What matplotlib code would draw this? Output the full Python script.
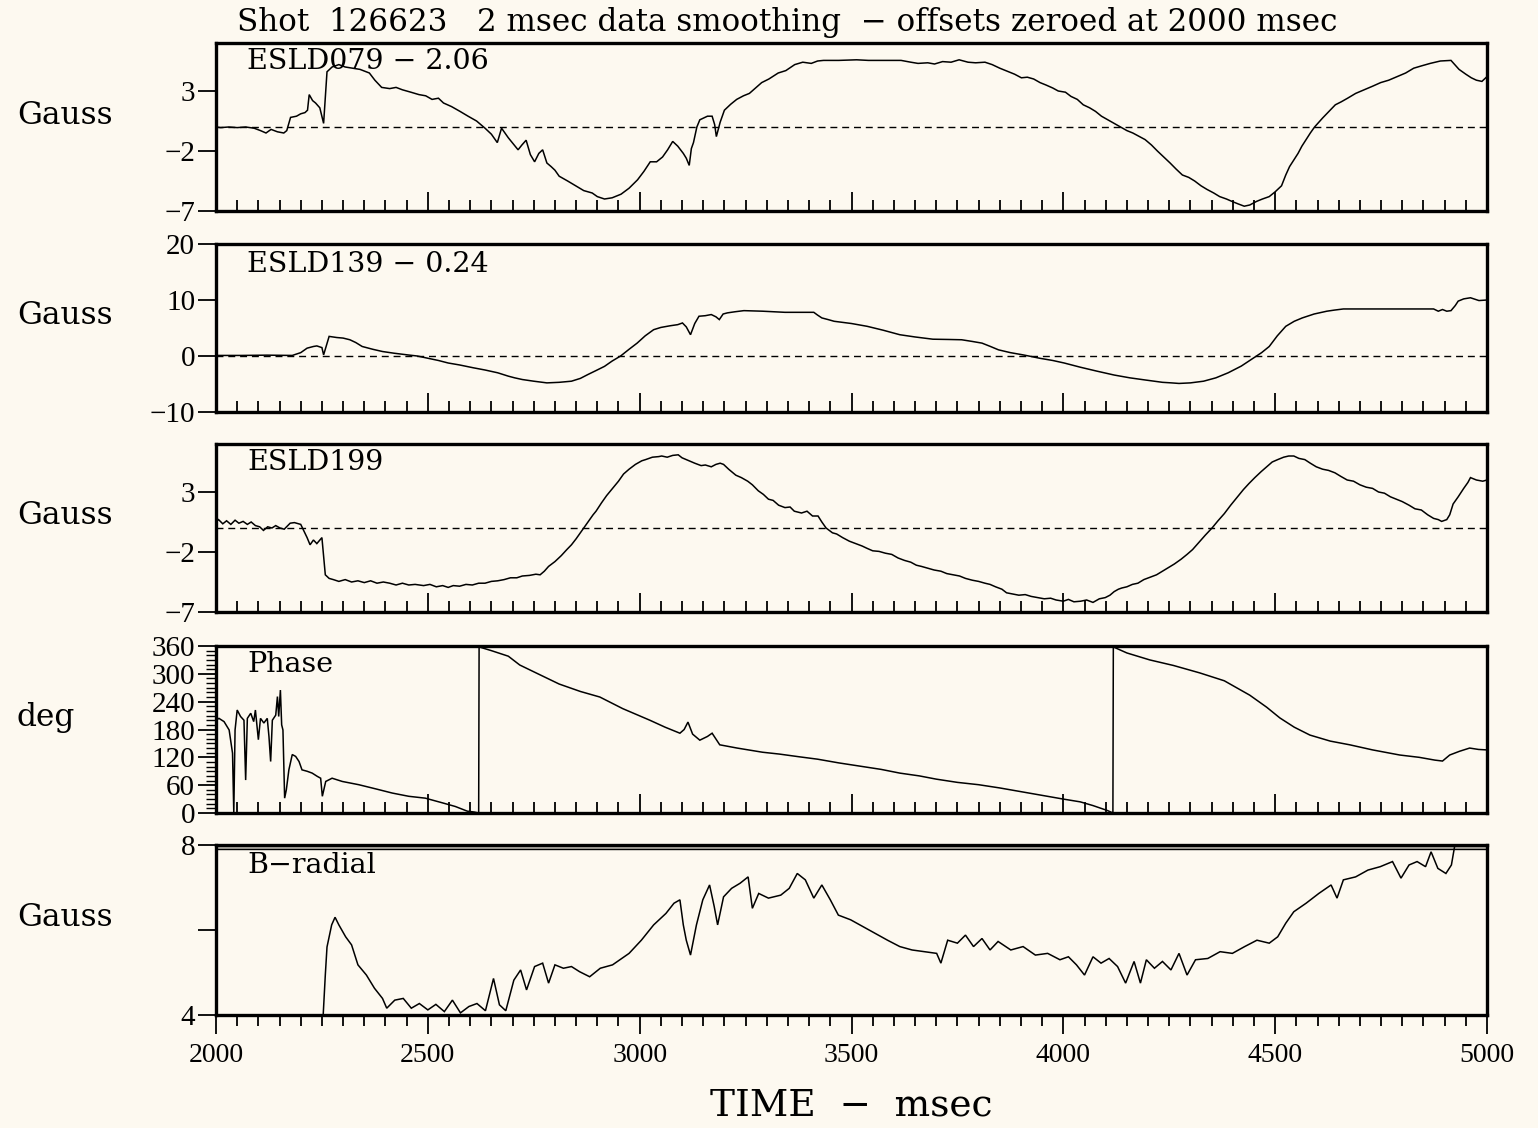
import matplotlib
matplotlib.use("Agg")
import matplotlib.pyplot as plt
from matplotlib.ticker import MultipleLocator

# ---------------- data ----------------
t_079 = [2000, 2011, 2030, 2050, 2070, 2090, 2105, 2118, 2130, 2145, 2160, 2167, 2176, 2190, 2200,
         2210, 2216, 2220, 2228, 2235, 2245, 2254, 2258, 2262, 2274, 2290, 2305, 2323, 2340, 2362,
         2375, 2391, 2410, 2425, 2440, 2460, 2479, 2495, 2510, 2525, 2537, 2556, 2576, 2595, 2615,
         2635, 2650, 2664, 2674, 2690, 2713, 2722, 2732, 2742, 2752, 2762, 2771, 2781, 2791, 2800,
         2810, 2830, 2849, 2868, 2888, 2900, 2917, 2935, 2956, 2975, 2995, 3010, 3025, 3040, 3054,
         3066, 3078, 3090, 3103, 3110, 3117, 3122, 3127, 3135, 3142, 3160, 3171, 3177, 3181, 3190,
         3200, 3215, 3229, 3245, 3259, 3275, 3288, 3305, 3327, 3345, 3366, 3385, 3405, 3420, 3434,
         3470, 3512, 3540, 3570, 3617, 3640, 3657, 3680, 3696, 3715, 3735, 3754, 3775, 3793, 3815,
         3832, 3850, 3871, 3885, 3901, 3915, 3930, 3945, 3959, 3975, 3988, 4005, 4018, 4033, 4047,
         4062, 4076, 4090, 4105, 4120, 4135, 4150, 4164, 4180, 4193, 4208, 4222, 4237, 4252, 4266,
         4281, 4296, 4310, 4325, 4339, 4355, 4369, 4385, 4398, 4412, 4427, 4440, 4456, 4470, 4486,
         4500, 4515, 4525, 4534, 4545, 4554, 4563, 4573, 4583, 4593, 4603, 4612, 4627, 4642, 4656,
         4671, 4690, 4710, 4730, 4749, 4768, 4788, 4808, 4827, 4846, 4866, 4890, 4915, 4934, 4950,
         4963, 4975, 4988, 5000]
b_079 = [0.0, -0.05, 0.0, -0.05, 0.0, -0.1, -0.3, -0.5, -0.2, -0.4, -0.5, -0.3, 0.8, 0.9, 1.1,
         1.2, 1.4, 2.7, 2.2, 2.0, 1.6, 0.3, 2.5, 4.6, 5.0, 5.2, 5.0, 4.9, 4.8, 4.5,
         3.9, 3.3, 3.2, 3.3, 3.1, 2.9, 2.7, 2.6, 2.3, 2.4, 2.0, 1.7, 1.3, 0.9, 0.5,
         -0.1, -0.6, -1.3, -0.1, -0.9, -1.9, -1.5, -1.1, -2.3, -2.9, -2.2, -1.9, -3.0, -3.3, -3.6,
         -4.1, -4.5, -4.9, -5.3, -5.5, -5.8, -6.0, -5.9, -5.6, -5.1, -4.4, -3.7, -2.9, -2.9, -2.5,
         -1.9, -1.2, -1.6, -2.2, -2.6, -3.2, -1.8, -1.3, 0.0, 0.6, 0.9, 0.9, 0.2, -0.8, 0.4,
         1.4, 1.9, 2.3, 2.6, 2.8, 3.3, 3.7, 4.0, 4.5, 4.7, 5.2, 5.4, 5.3, 5.5, 5.55,
         5.55, 5.6, 5.55, 5.55, 5.55, 5.4, 5.3, 5.35, 5.25, 5.45, 5.4, 5.6, 5.4, 5.35, 5.4,
         5.2, 4.9, 4.6, 4.4, 4.1, 4.15, 4.0, 3.7, 3.5, 3.25, 3.0, 2.9, 2.55, 2.3, 1.85,
         1.6, 1.3, 0.9, 0.6, 0.3, 0.0, -0.3, -0.5, -0.8, -1.05, -1.5, -2.0, -2.5, -3.0, -3.5,
         -4.0, -4.2, -4.5, -4.9, -5.2, -5.5, -5.8, -6.0, -6.2, -6.4, -6.6, -6.5, -6.2, -6.0, -5.8,
         -5.4, -4.9, -4.0, -3.3, -2.7, -2.2, -1.6, -1.05, -0.5, 0.0, 0.4, 0.75, 1.3, 1.85, 2.1,
         2.4, 2.8, 3.1, 3.4, 3.7, 3.9, 4.2, 4.5, 4.9, 5.1, 5.3, 5.5, 5.55, 4.8, 4.4,
         4.1, 3.9, 3.8, 4.2]

t_139 = [2000, 2060, 2120, 2180, 2200, 2215, 2230, 2238, 2250, 2254, 2267, 2285, 2300, 2316, 2330,
         2345, 2370, 2393, 2420, 2452, 2475, 2500, 2525, 2548, 2575, 2607, 2635, 2665, 2690, 2705,
         2723, 2750, 2781, 2810, 2839, 2860, 2878, 2897, 2917, 2935, 2955, 2975, 2994, 3013, 3033,
         3050, 3072, 3090, 3101, 3110, 3120, 3130, 3140, 3155, 3169, 3180, 3188, 3197, 3207, 3225,
         3246, 3290, 3343, 3380, 3411, 3420, 3430, 3445, 3459, 3500, 3537, 3575, 3614, 3650, 3692,
         3730, 3760, 3785, 3808, 3828, 3847, 3875, 3905, 3925, 3944, 3975, 4002, 4040, 4079, 4120,
         4157, 4195, 4234, 4255, 4273, 4300, 4331, 4360, 4389, 4420, 4448, 4468, 4486, 4505, 4525,
         4545, 4564, 4592, 4622, 4640, 4661, 4760, 4874, 4885, 4895, 4905, 4915, 4925, 4932, 4945,
         4961, 4981, 5000]
b_139 = [0.1, 0.1, 0.15, 0.1, 0.6, 1.4, 1.7, 1.8, 1.5, 0.2, 3.5, 3.3, 3.2, 2.9, 2.4,
         1.7, 1.2, 0.8, 0.5, 0.2, 0.0, -0.4, -0.8, -1.25, -1.6, -2.1, -2.5, -3.0, -3.6, -3.9,
         -4.2, -4.5, -4.8, -4.7, -4.5, -4.0, -3.3, -2.6, -1.85, -0.9, 0.0, 1.2, 2.3, 3.6, 4.7,
         5.1, 5.4, 5.6, 5.9, 5.2, 3.8, 5.8, 7.1, 7.2, 7.4, 7.0, 6.5, 7.5, 7.7, 7.9,
         8.1, 8.0, 7.8, 7.8, 7.8, 7.3, 6.8, 6.5, 6.2, 5.8, 5.3, 4.6, 3.8, 3.4, 3.0,
         2.95, 2.9, 2.6, 2.3, 1.7, 1.1, 0.6, 0.2, -0.1, -0.4, -0.8, -1.25, -2.0, -2.7, -3.4,
         -3.9, -4.3, -4.7, -4.8, -4.9, -4.8, -4.5, -3.9, -3.0, -1.8, -0.4, 0.6, 1.7, 3.6, 5.3,
         6.2, 6.8, 7.5, 8.0, 8.2, 8.4, 8.4, 8.4, 8.0, 8.3, 8.0, 8.1, 9.0, 9.8, 10.2,
         10.4, 9.9, 10.0]

t_199 = [2000, 2006, 2016, 2025, 2035, 2045, 2054, 2064, 2074, 2083, 2093, 2103, 2112, 2122, 2132,
         2141, 2151, 2161, 2175, 2185, 2200, 2215, 2222, 2230, 2238, 2250, 2258, 2267, 2277, 2290,
         2305, 2320, 2335, 2350, 2365, 2380, 2395, 2410, 2425, 2440, 2455, 2470, 2490, 2505, 2520,
         2535, 2548, 2560, 2575, 2590, 2605, 2620, 2635, 2650, 2665, 2680, 2695, 2710, 2723, 2740,
         2755, 2765, 2775, 2785, 2800, 2815, 2828, 2839, 2850, 2860, 2868, 2880, 2890, 2897, 2910,
         2922, 2936, 2950, 2962, 2975, 2990, 3005, 3014, 3030, 3045, 3052, 3065, 3078, 3091, 3100,
         3110, 3120, 3130, 3145, 3155, 3169, 3180, 3190, 3198, 3210, 3227, 3240, 3255, 3266, 3280,
         3292, 3304, 3315, 3328, 3343, 3355, 3365, 3382, 3395, 3408, 3421, 3430, 3440, 3455, 3465,
         3479, 3495, 3510, 3525, 3537, 3550, 3565, 3580, 3595, 3610, 3625, 3640, 3653, 3665, 3680,
         3695, 3711, 3725, 3740, 3755, 3769, 3785, 3800, 3815, 3827, 3840, 3855, 3866, 3880, 3895,
         3910, 3924, 3940, 3955, 3970, 3983, 4000, 4012, 4025, 4041, 4055, 4070, 4085, 4099, 4110,
         4120, 4130, 4138, 4150, 4163, 4176, 4190, 4205, 4220, 4234, 4248, 4262, 4278, 4292, 4305,
         4320, 4335, 4351, 4365, 4380, 4395, 4409, 4425, 4438, 4452, 4467, 4480, 4493, 4506, 4520,
         4532, 4544, 4556, 4570, 4583, 4597, 4612, 4626, 4641, 4655, 4670, 4685, 4700, 4715, 4730,
         4744, 4758, 4772, 4786, 4800, 4816, 4830, 4845, 4860, 4874, 4885, 4893, 4905, 4912, 4920,
         4932, 4945, 4955, 4961, 4975, 4990, 5000]
b_199 = [0.5, 0.7, 0.35, 0.6, 0.3, 0.65, 0.4, 0.55, 0.3, 0.5, 0.2, 0.1, -0.2, 0.1, 0.0,
         0.2, 0.0, -0.1, 0.4, 0.45, 0.3, -0.8, -1.4, -1.0, -1.3, -0.8, -3.9, -4.2, -4.3, -4.45,
         -4.3, -4.5, -4.4, -4.55, -4.4, -4.6, -4.5, -4.6, -4.75, -4.6, -4.75, -4.7, -4.8, -4.7, -4.9,
         -4.8, -4.95, -4.8, -4.85, -4.7, -4.75, -4.6, -4.6, -4.45, -4.4, -4.3, -4.15, -4.15, -4.0, -3.95,
         -3.85, -3.9, -3.6, -3.2, -2.8, -2.3, -1.8, -1.4, -0.9, -0.4, 0.0, 0.6, 1.1, 1.4, 2.1,
         2.7, 3.3, 3.9, 4.5, 4.9, 5.3, 5.6, 5.7, 5.9, 5.95, 6.0, 5.9, 6.05, 6.1, 5.85,
         5.7, 5.55, 5.4, 5.2, 5.25, 5.1, 5.3, 5.4, 5.3, 4.9, 4.4, 4.2, 3.9, 3.6, 3.1,
         2.8, 2.4, 2.3, 1.9, 1.7, 1.75, 1.4, 1.25, 1.4, 1.0, 1.0, 0.5, 0.0, -0.4, -0.5,
         -0.8, -1.1, -1.3, -1.5, -1.7, -1.9, -1.95, -2.1, -2.2, -2.5, -2.7, -2.85, -3.1, -3.2, -3.35,
         -3.5, -3.6, -3.8, -3.9, -4.0, -4.2, -4.35, -4.45, -4.6, -4.7, -4.9, -5.1, -5.4, -5.5, -5.6,
         -5.55, -5.7, -5.8, -5.9, -5.85, -6.0, -6.1, -5.95, -6.15, -6.1, -6.0, -6.2, -5.9, -5.8, -5.6,
         -5.3, -5.1, -5.0, -4.9, -4.7, -4.6, -4.3, -4.1, -3.9, -3.6, -3.3, -3.0, -2.6, -2.2, -1.8,
         -1.2, -0.6, 0.0, 0.6, 1.2, 1.9, 2.5, 3.2, 3.7, 4.2, 4.7, 5.1, 5.5, 5.7, 5.9,
         6.0, 6.0, 5.8, 5.7, 5.4, 5.1, 4.9, 4.8, 4.6, 4.3, 4.0, 3.9, 3.6, 3.4, 3.3,
         3.0, 2.9, 2.6, 2.4, 2.2, 1.9, 1.6, 1.5, 1.1, 0.8, 0.7, 0.55, 0.7, 1.1, 2.0,
         2.6, 3.3, 3.8, 4.2, 4.0, 3.9, 4.0]

t_phase = [2000, 2007, 2019, 2031, 2039, 2042, 2045, 2050, 2058, 2066, 2070, 2074, 2082, 2089, 2093,
           2100, 2105, 2113, 2121, 2125, 2129, 2133, 2141, 2145, 2148, 2152, 2155, 2158, 2162, 2166,
           2172, 2180, 2188, 2196, 2203, 2215, 2227, 2239, 2247, 2251, 2259, 2274, 2298, 2337, 2377,
           2416, 2455, 2494, 2534, 2565, 2593, 2610, 2620, 2621, 2650, 2690, 2717, 2760, 2810, 2860,
           2906, 2960, 3024, 3060, 3095, 3105, 3114, 3125, 3142, 3160, 3171, 3189, 3230, 3290, 3330,
           3378, 3420, 3470, 3520, 3570, 3614, 3660, 3700, 3750, 3800, 3850, 3900, 3950, 4000, 4040,
           4070, 4086, 4105, 4117, 4118, 4150, 4204, 4260, 4322, 4380, 4440, 4480, 4511, 4545, 4582,
           4630, 4676, 4730, 4794, 4840, 4877, 4895, 4912, 4935, 4959, 4980, 5000]
phase = [200, 204, 197, 179, 129, 0, 179, 222, 208, 200, 71, 204, 215, 197, 222,
         158, 204, 194, 204, 165, 111, 200, 211, 251, 208, 265, 190, 179, 32, 50,
         93, 126, 122, 111, 93, 90, 86, 79, 75, 36, 68, 75, 68, 61, 52,
         43, 36, 32, 22, 14, 4, 2, 0, 358, 350, 338, 319, 300, 278, 262,
         250, 225, 200, 185, 172, 180, 196, 170, 157, 165, 172, 147, 140, 131, 127,
         121, 116, 108, 101, 94, 86, 80, 73, 66, 61, 54, 46, 38, 30, 24,
         16, 11, 5, 0, 358, 345, 330, 318, 302, 285, 254, 228, 205, 185, 168,
         155, 147, 136, 125, 120, 114, 112, 125, 133, 140, 137, 136]

t_brad = [2253, 2258, 2262, 2273, 2281, 2290, 2306, 2320, 2335, 2355, 2374, 2393, 2403, 2422, 2442,
          2461, 2480, 2500, 2519, 2539, 2558, 2577, 2597, 2616, 2636, 2655, 2669, 2684, 2703, 2719,
          2733, 2752, 2771, 2785, 2800, 2820, 2839, 2858, 2882, 2907, 2936, 2975, 3004, 3033, 3062,
          3081, 3095, 3103, 3110, 3120, 3134, 3149, 3165, 3176, 3184, 3198, 3217, 3237, 3256, 3266,
          3281, 3304, 3333, 3353, 3372, 3391, 3411, 3430, 3450, 3469, 3498, 3527, 3556, 3585, 3614,
          3643, 3672, 3701, 3711, 3727, 3750, 3769, 3788, 3808, 3827, 3846, 3876, 3905, 3934, 3963,
          3992, 4012, 4031, 4050, 4070, 4089, 4108, 4128, 4147, 4167, 4182, 4196, 4215, 4234, 4254,
          4273, 4292, 4312, 4341, 4370, 4399, 4428, 4457, 4486, 4506, 4525, 4544, 4573, 4603, 4632,
          4646, 4661, 4690, 4719, 4748, 4777, 4797, 4816, 4835, 4855, 4868, 4884, 4903, 4916, 4925,
          4940, 5000]
brad = [4.0, 4.94, 5.6, 6.12, 6.3, 6.12, 5.84, 5.65, 5.18, 4.94, 4.63, 4.39, 4.16, 4.35, 4.39,
        4.16, 4.27, 4.12, 4.25, 4.08, 4.35, 4.05, 4.2, 4.27, 4.1, 4.86, 4.24, 4.1, 4.82, 5.06,
        4.59, 5.14, 5.22, 4.75, 5.18, 5.1, 5.14, 5.02, 4.9, 5.1, 5.18, 5.45, 5.76, 6.12, 6.39,
        6.63, 6.71, 6.12, 5.76, 5.41, 6.12, 6.71, 7.06, 6.55, 6.12, 6.78, 6.98, 7.1, 7.25, 6.51,
        6.86, 6.75, 6.82, 6.98, 7.33, 7.18, 6.75, 7.06, 6.71, 6.35, 6.24, 6.08, 5.92, 5.76, 5.61,
        5.53, 5.49, 5.45, 5.22, 5.76, 5.69, 5.88, 5.61, 5.8, 5.53, 5.73, 5.53, 5.61, 5.41, 5.45,
        5.3, 5.37, 5.18, 4.94, 5.37, 5.22, 5.33, 5.14, 4.75, 5.26, 4.75, 5.3, 5.1, 5.26, 5.06,
        5.45, 4.94, 5.3, 5.33, 5.49, 5.45, 5.61, 5.76, 5.69, 5.84, 6.16, 6.43, 6.63, 6.86, 7.06,
        6.75, 7.18, 7.25, 7.41, 7.49, 7.61, 7.22, 7.53, 7.61, 7.49, 7.84, 7.45, 7.33, 7.53, 8.05,
        8.3, 8.3]

panel_names = ["ESLD079 \u2212 2.06", "ESLD139 \u2212 0.24", "ESLD199", "Phase", "B\u2212radial"]
panel_units = ["Gauss", "Gauss", "Gauss", "deg", "Gauss"]
title_text = "Shot  126623   2 msec data smoothing  \u2212 offsets zeroed at 2000 msec"
xlabel_text = "TIME  \u2212  msec"

series = [(t_079, b_079), (t_139, b_139), (t_199, b_199), (t_phase, phase), (t_brad, brad)]
ylims = [(-7, 7), (-10, 20), (-7, 7), (0, 360), (4, 8)]
yticks = [[-7, -2, 3], [-10, 0, 10, 20], [-7, -2, 3],
          [0, 60, 120, 180, 240, 300, 360], [4, 6, 8]]
ytick_labels = [["\u22127", "\u22122", "3"], ["\u221210", "0", "10", "20"], ["\u22127", "\u22122", "3"],
                ["0", "60", "120", "180", "240", "300", "360"], ["4", "", "8"]]
zero_line = [True, True, True, False, False]

# ---------------- layout ----------------
W, H = 1538, 1128
BG = "#fdf9f0"
TEXT_FONT = ["DejaVu Serif"]
NUM_FONT = ["Liberation Serif", "DejaVu Serif"]

fig = plt.figure(figsize=(W / 100, H / 100), dpi=100, facecolor=BG)

left_px, right_px = 216, 1487
panel_px = [(43, 211), (244, 412), (444, 612), (646, 813), (845, 1015)]
name_gap_px = [5, 7, 5, 5, 7]

axes = []
for i, (top, bot) in enumerate(panel_px):
    ax = fig.add_axes([left_px / W, 1 - bot / H, (right_px - left_px) / W, (bot - top) / H])
    ax.set_facecolor(BG)
    t, v = series[i]
    ax.plot(t, v, color="black", lw=1.1, solid_joinstyle="miter")
    if zero_line[i]:
        ax.axhline(0, color="black", lw=1.0, ls=(0, (5, 3.5)))
    ax.set_xlim(2000, 5000)
    ax.set_ylim(*ylims[i])
    ax.set_yticks(yticks[i])
    ax.set_yticklabels(ytick_labels[i], family=NUM_FONT, fontsize=21)
    ax.xaxis.set_major_locator(MultipleLocator(500))
    ax.xaxis.set_minor_locator(MultipleLocator(50))
    last = i == len(panel_px) - 1
    ax.tick_params(axis="x", which="major", direction="out" if last else "in",
                   length=14, width=1.3, top=False, labelbottom=last, pad=6)
    ax.tick_params(axis="x", which="minor", direction="out" if last else "in",
                   length=8, width=1.3, top=False)
    ax.tick_params(axis="y", which="major", direction="out", length=13, width=1.3,
                   right=False, pad=2)
    for s in ax.spines.values():
        s.set_linewidth(2.4)
    ax.text(31 / (right_px - left_px), 1 - name_gap_px[i] / (bot - top), panel_names[i],
            transform=ax.transAxes, ha="left", va="top", family=TEXT_FONT, fontsize=20.5)
    fig.text(17 / W, 1 - ((top + bot) / 2 - 12) / H, panel_units[i],
             ha="left", va="center", family=TEXT_FONT, fontsize=22.5)
    axes.append(ax)

# phase panel: fine degree ticks
axes[3].yaxis.set_minor_locator(MultipleLocator(10))
axes[3].tick_params(axis="y", which="minor", direction="out", length=7, width=1.0)

# B-radial panel: saturated band along the upper limit
axes[4].axhspan(7.9, 8.0, facecolor="#b9b5ac", edgecolor="none")
axes[4].axhline(7.9, color="black", lw=1.0)
for lab in axes[4].get_xticklabels():
    lab.set_family(NUM_FONT)
    lab.set_fontsize(20)

fig.text(787 / W, 1 - 22 / H, title_text, ha="center", va="center",
         family=TEXT_FONT, fontsize=22.3)
fig.text(851 / W, 1 - 1106 / H, xlabel_text, ha="center", va="center",
         family=TEXT_FONT, fontsize=27)

fig.savefig("out.png", dpi=100, facecolor=BG)
